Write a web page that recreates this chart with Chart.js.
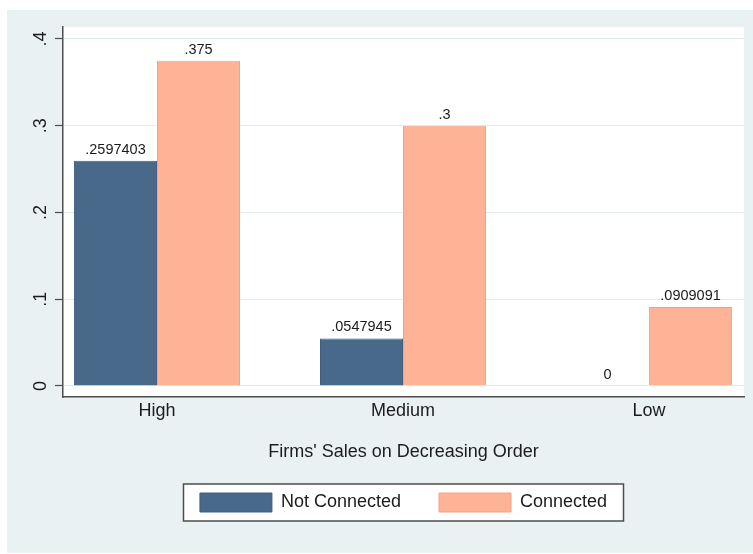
<!DOCTYPE html>
<html>
<head>
<meta charset="utf-8">
<script src="https://cdn.jsdelivr.net/npm/chart.js@4.4.0/dist/chart.umd.min.js"></script>
<style>
  body { margin: 0; background: #fff; }
  canvas { display: block; }
</style>
</head>
<body>
<canvas id="grafico" width="753" height="554"></canvas>
<script>
const categorias = ['High', 'Medium', 'Low'];
const noConectadas = [0.2597403, 0.0547945, 0];
const conectadas = [0.375, 0.3, 0.0909091];
const marcasY = [0, 0.1, 0.2, 0.3, 0.4];
const nombresSeries = ['Not Connected', 'Connected'];
const tituloX = "Firms' Sales on Decreasing Order";

const fuente = "'Liberation Sans', Arial, Helvetica, sans-serif";
const colorTexto = '#1c1c1c';
const colorEje = '#4d4d4d';

// Stata escribe .375 en vez de 0.375
const formatoStata = (valor) => {
    if (valor === 0) return '0';
    return String(valor).replace(/^0\./, '.');
};

const fondo = {
    id: 'fondo',
    afterLayout(chart) {
        // la leyenda va centrada bajo el area del grafico, no bajo todo el lienzo
        let leyenda = chart.legend;
        let area = chart.chartArea;
        let dx = (area.left + area.right) / 2 - (leyenda.left + leyenda.right) / 2;
        leyenda.left += dx;
        leyenda.right += dx;
        let alto = leyenda.height;
        leyenda.top = area.bottom + 58;
        leyenda.bottom = leyenda.top + alto;
    },
    beforeDraw(chart) {
        let ctx = chart.ctx;
        let area = chart.chartArea;
        let leyenda = chart.legend;
        ctx.save();
        ctx.fillStyle = '#fff';
        ctx.fillRect(0, 0, chart.width, chart.height);
        ctx.fillStyle = '#e9f1f3';
        ctx.fillRect(7, 10, chart.width - 7, chart.height - 11);
        ctx.fillStyle = '#fff';
        ctx.fillRect(area.left, area.top, area.right - area.left, area.bottom - area.top);

        let centro = (leyenda.left + leyenda.right) / 2;
        let cajaX = centro - 220;
        let cajaY = leyenda.top + 38 - 9;
        ctx.fillRect(cajaX, cajaY, 440, 37);
        ctx.strokeStyle = colorEje;
        ctx.lineWidth = 1.5;
        ctx.strokeRect(cajaX, cajaY, 440, 37);
        ctx.restore();
    }
};

const etiquetasValor = {
    id: 'etiquetasValor',
    afterDatasetsDraw(chart) {
        let ctx = chart.ctx;
        ctx.save();
        ctx.font = '14.5px ' + fuente;
        ctx.fillStyle = colorTexto;
        ctx.textAlign = 'center';
        ctx.textBaseline = 'alphabetic';
        chart.data.datasets.forEach((ds, i) => {
            let meta = chart.getDatasetMeta(i);
            meta.data.forEach((barra, j) => {
                ctx.fillText(formatoStata(ds.data[j].y), barra.x, barra.y - 7);
            });
        });
        ctx.restore();
    }
};

let contexto = document.getElementById('grafico').getContext('2d');

window.grafico = new Chart(contexto, {
    type: 'bar',
    data: {
        datasets: [{
            label: nombresSeries[0],
            data: noConectadas.map((v, i) => ({ x: i, y: v })),
            backgroundColor: '#48698a',
            borderColor: '#3f6083',
            borderWidth: 1,
        }, {
            label: nombresSeries[1],
            data: conectadas.map((v, i) => ({ x: i, y: v })),
            backgroundColor: '#ffb396',
            borderColor: '#f6a184',
            borderWidth: 1,
        }],
    },
    options: {
        responsive: false,
        animation: false,
        devicePixelRatio: 1,
        categoryPercentage: 0.675,
        barPercentage: 1,
        layout: {
            padding: { left: 7, top: 27, right: 9, bottom: 31 }
        },
        plugins: {
            tooltip: { enabled: false },
            legend: {
                position: 'bottom',
                maxHeight: 60,
                labels: {
                    boxWidth: 72,
                    boxHeight: 19,
                    padding: 38,
                    color: colorTexto,
                    font: { size: 18, family: fuente }
                }
            }
        },
        scales: {
            x: {
                type: 'linear',
                min: -0.382,
                max: 2.386,
                offset: false,
                afterBuildTicks: (escala) => {
                    escala.ticks = categorias.map((c, i) => ({ value: i }));
                },
                afterFit: (escala) => { escala.height = 66; },
                grid: { display: false, drawTicks: false, offset: false },
                border: { display: true, color: colorEje, width: 1.5 },
                ticks: {
                    callback: (v) => categorias[v],
                    autoSkip: false,
                    maxRotation: 0,
                    padding: 3,
                    color: colorTexto,
                    font: { size: 18, family: fuente }
                },
                title: {
                    display: true,
                    text: tituloX,
                    color: colorTexto,
                    font: { size: 18, family: fuente },
                    padding: { top: 0, bottom: 0 }
                }
            },
            y: {
                min: -0.0127,
                max: 0.4138,
                afterBuildTicks: (escala) => {
                    escala.ticks = marcasY.map(v => ({ value: v }));
                },
                afterFit: (escala) => { escala.width = 56; },
                grid: {
                    color: '#e3edf0',
                    lineWidth: 1,
                    drawTicks: true,
                    tickLength: 8,
                    tickColor: colorEje,
                    tickWidth: 1.2
                },
                border: { display: true, color: colorEje, width: 1.5 },
                ticks: {
                    minRotation: 90,
                    maxRotation: 90,
                    crossAlign: 'center',
                    padding: 6,
                    callback: (v) => formatoStata(v),
                    color: colorTexto,
                    font: { size: 18, family: fuente }
                }
            }
        }
    },
    plugins: [fondo, etiquetasValor]
});
</script>
</body>
</html>
